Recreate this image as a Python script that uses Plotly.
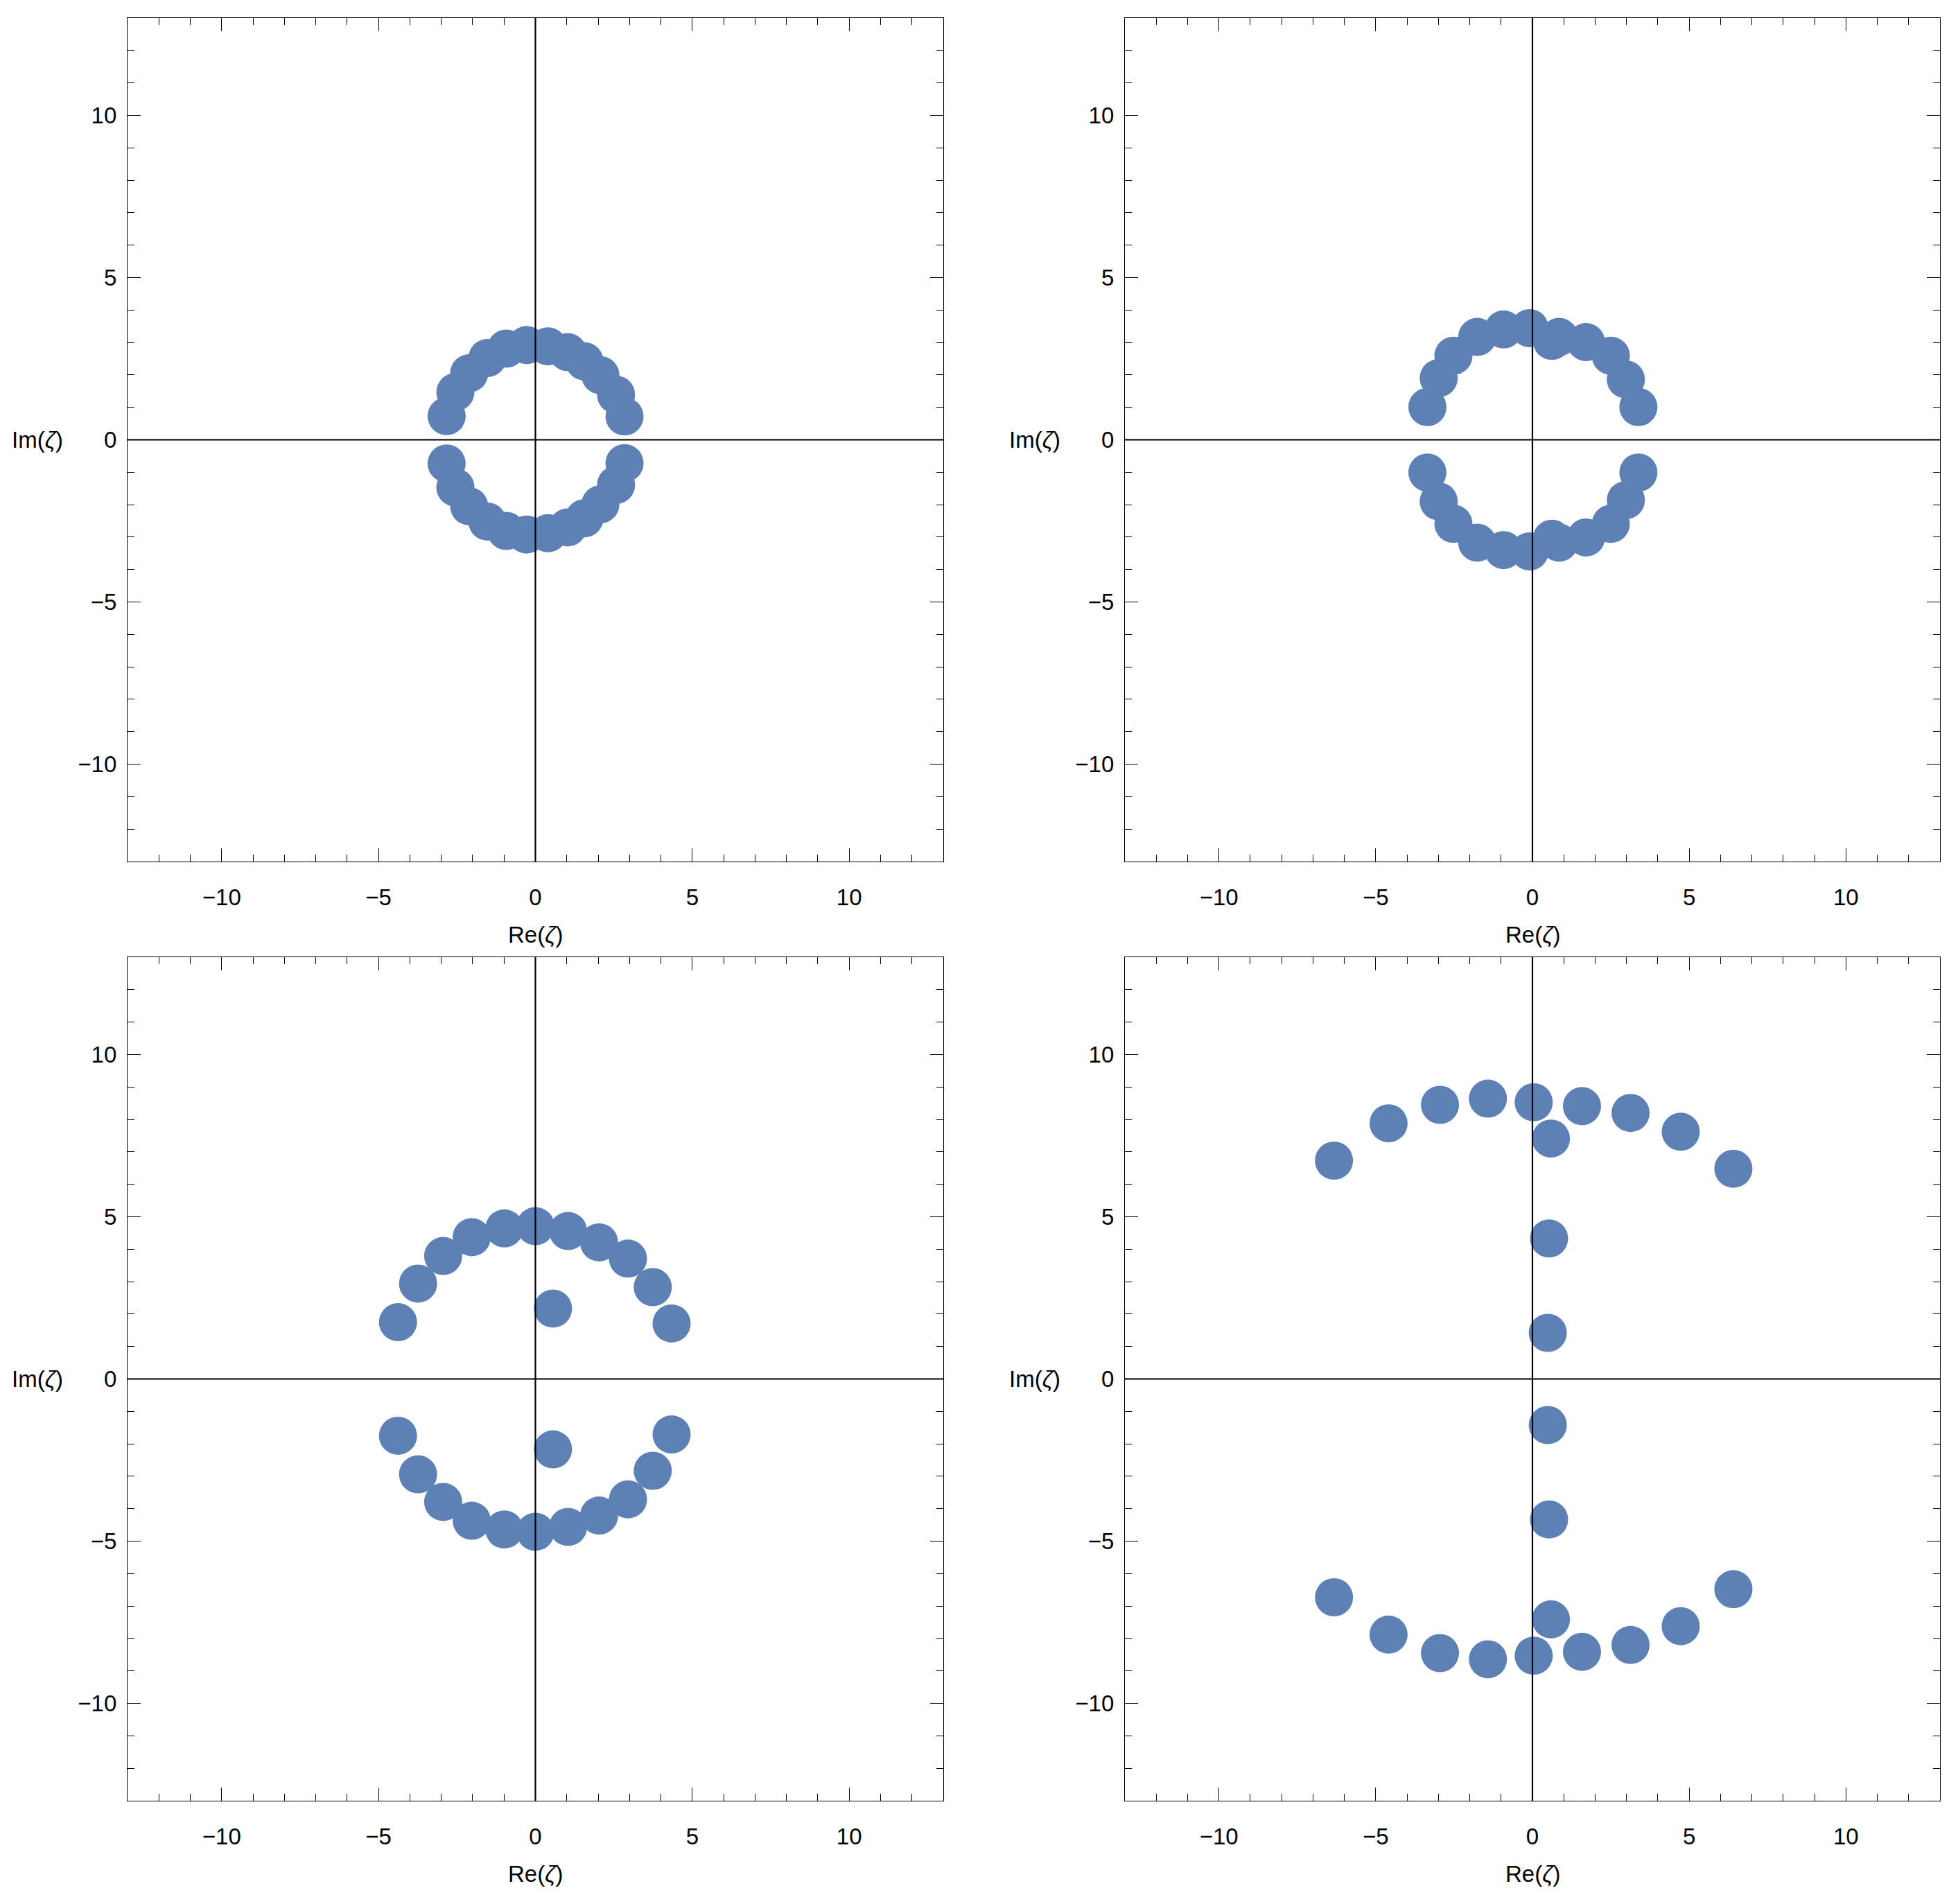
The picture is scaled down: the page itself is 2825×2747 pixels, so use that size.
import plotly.graph_objects as go

POINT_COLOR = "#5E81B5"
FONT = "Liberation Sans, Arial, sans-serif"

# Panel 1 (top-left)
p1_x = [-2.83, -2.55, -2.11, -1.53, -0.93, -0.28, 0.40, 1.03, 1.56, 2.07, 2.57, 2.84,
        -2.83, -2.55, -2.11, -1.53, -0.93, -0.28, 0.40, 1.03, 1.56, 2.07, 2.57, 2.84]
p1_y = [0.73, 1.47, 2.05, 2.52, 2.81, 2.92, 2.88, 2.70, 2.42, 1.99, 1.39, 0.72,
        -0.73, -1.47, -2.05, -2.52, -2.81, -2.92, -2.88, -2.70, -2.42, -1.99, -1.39, -0.72]

# Panel 2 (top-right)
p2_x = [-3.35, -2.99, -2.52, -1.76, -0.92, -0.09, 0.62, 0.85, 1.71, 2.50, 2.98, 3.38,
        -3.35, -2.99, -2.52, -1.76, -0.92, -0.09, 0.62, 0.85, 1.71, 2.50, 2.98, 3.38]
p2_y = [1.01, 1.90, 2.59, 3.17, 3.40, 3.44, 3.05, 3.17, 3.01, 2.59, 1.86, 1.01,
        -1.01, -1.90, -2.59, -3.17, -3.40, -3.44, -3.05, -3.17, -3.01, -2.59, -1.86, -1.01]

# Panel 3 (bottom-left)
p3_x = [-4.38, -3.74, -2.94, -2.03, -0.99, 0.00, 1.04, 2.03, 2.95, 3.74, 4.34, 0.56,
        -4.38, -3.74, -2.94, -2.03, -0.99, 0.00, 1.04, 2.03, 2.95, 3.74, 4.34, 0.56]
p3_y = [1.75, 2.94, 3.79, 4.37, 4.64, 4.71, 4.56, 4.21, 3.71, 2.83, 1.71, 2.17,
        -1.75, -2.94, -3.79, -4.37, -4.64, -4.71, -4.56, -4.21, -3.71, -2.83, -1.71, -2.17]

# Panel 4 (bottom-right)
p4_x = [-6.33, -4.59, -2.95, -1.42, 0.04, 1.58, 3.13, 4.73, 6.41, 0.59, 0.53, 0.49,
        -6.33, -4.59, -2.95, -1.42, 0.04, 1.58, 3.13, 4.73, 6.41, 0.59, 0.53, 0.49]
p4_y = [6.73, 7.88, 8.45, 8.64, 8.53, 8.41, 8.20, 7.62, 6.48, 7.41, 4.33, 1.42,
        -6.73, -7.88, -8.45, -8.64, -8.53, -8.41, -8.20, -7.62, -6.48, -7.41, -4.33, -1.42]

axis_range = [-13, 13]
major_ticks = [-10, -5, 0, 5, 10]
x_label = "Re(<i>ζ</i>)"
y_label = "Im(<i>ζ</i>)"

# page body has an 8px margin; size the figure to fit inside the window
OFF = 8
W, H = 2825 - 2 * OFF, 2747 - 2 * OFF
panels = [(p1_x, p1_y), (p2_x, p2_y), (p3_x, p3_y), (p4_x, p4_y)]
# screen-pixel boxes of plotting areas (left, right, top, bottom)
boxes = [(184, 1361, 26, 1243), (1623, 2799, 26, 1243),
         (184, 1361, 1381, 2598), (1623, 2799, 1381, 2598)]

fig = go.Figure()
layout = dict(width=W, height=H, margin=dict(l=0, r=0, t=0, b=0),
              paper_bgcolor="white", plot_bgcolor="white", showlegend=False,
              template="none")
annotations = []
shapes = []

for i, ((px, py), box) in enumerate(zip(panels, boxes)):
    l, r, t, b = [v - OFF for v in box]
    n = "" if i == 0 else str(i + 1)
    xa, ya = "x" + n, "y" + n
    fig.add_trace(go.Scatter(x=px, y=py, mode="markers", xaxis=xa, yaxis=ya,
                             marker=dict(size=55, color=POINT_COLOR, line=dict(width=0)),
                             hoverinfo="skip"))
    common = dict(range=axis_range, tickmode="array", tickvals=major_ticks,
                  ticks="inside", ticklen=19, tickwidth=1.3, tickcolor="#000",
                  showline=True, linecolor="#000", linewidth=1.3, mirror="allticks",
                  showgrid=False, zeroline=False,
                  tickfont=dict(family=FONT, size=33, color="#000"),
                  minor=dict(dtick=1, tick0=0, ticks="inside", ticklen=10,
                             tickwidth=1.2, tickcolor="#000", showgrid=False),
                  fixedrange=True)
    layout["xaxis" + n] = dict(common, domain=[l / W, r / W], anchor=ya,
                               ticklabelstandoff=22)
    layout["yaxis" + n] = dict(common, domain=[1 - b / H, 1 - t / H], anchor=xa,
                               ticklabelstandoff=8)
    # origin axes drawn above points
    shapes.append(dict(type="line", xref=xa, yref=ya + " domain", x0=0, x1=0, y0=0, y1=1,
                       line=dict(color="#000", width=2.2), layer="above"))
    shapes.append(dict(type="line", xref=xa + " domain", yref=ya, x0=0, x1=1, y0=0, y1=0,
                       line=dict(color="#000", width=2.2), layer="above"))
    annotations.append(dict(text=x_label, xref=xa, yref="paper", x=0,
                            y=1 - (b + 105) / H, showarrow=False, xanchor="center",
                            yanchor="middle", font=dict(family=FONT, size=33, color="#000")))
    annotations.append(dict(text=y_label, xref="paper", yref=ya, x=(l - 130) / W, y=0,
                            showarrow=False, xanchor="center", yanchor="middle",
                            font=dict(family=FONT, size=33, color="#000")))

layout["annotations"] = annotations
layout["shapes"] = shapes
fig.update_layout(**layout)
fig.write_html("out.html")
